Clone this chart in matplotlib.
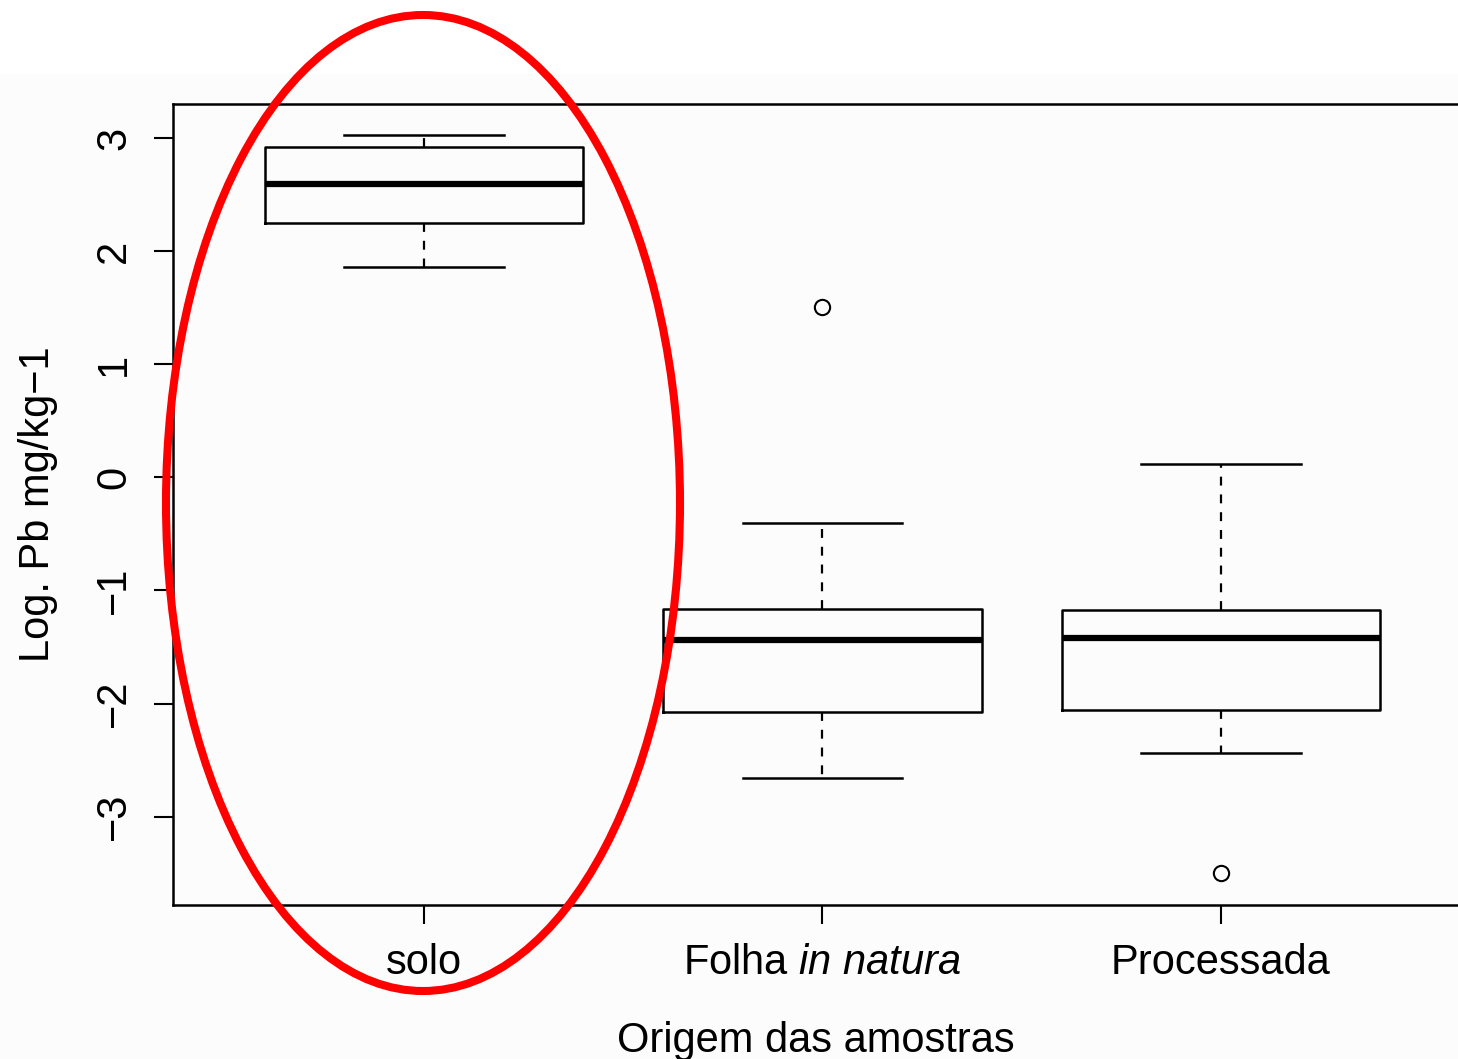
import matplotlib
matplotlib.use("Agg")
import matplotlib.pyplot as plt
from matplotlib.patches import Ellipse, Rectangle

plt.rcParams['font.family'] = ['Liberation Sans', 'DejaVu Sans']
plt.rcParams['mathtext.fontset'] = 'custom'
plt.rcParams['mathtext.rm'] = 'Liberation Sans'
plt.rcParams['mathtext.it'] = 'Liberation Sans:italic'

categories = ["solo", "Folha $\\it{in\\ natura}$", "Processada"]
whisker_low = [1.86, -2.66, -2.44]
q1 = [2.25, -2.07, -2.06]
medians = [2.59, -1.44, -1.42]
q3 = [2.92, -1.16, -1.17]
whisker_high = [3.03, -0.40, 0.12]
outliers = [[], [1.51], [-3.50]]
yticks = [-3, -2, -1, 0, 1, 2, 3]

fig = plt.figure(figsize=(14.58, 10.59), dpi=100, facecolor='#fcfcfc')
fig.patches.append(Rectangle((0, 0.93), 1, 0.07, transform=fig.transFigure,
                             facecolor='white', edgecolor='none', zorder=-1))
ax = fig.add_axes([173/1458, 1-905/1059, 1-173/1458, (905-104)/1059])
ax.set_facecolor('#fcfcfc')

stats = []
for i in range(3):
    stats.append(dict(med=medians[i], q1=q1[i], q3=q3[i], whislo=whisker_low[i],
                      whishi=whisker_high[i], fliers=outliers[i], label=categories[i]))

ax.bxp(stats, positions=[1, 2, 3], widths=0.8, capwidths=0.4, showfliers=True,
       boxprops=dict(color='black', linewidth=1.8),
       medianprops=dict(color='black', linewidth=4.5, solid_capstyle='butt'),
       whiskerprops=dict(color='black', linewidth=1.6, linestyle=(0, (4, 4))),
       capprops=dict(color='black', linewidth=1.8),
       flierprops=dict(marker='o', markersize=11, markerfacecolor='none',
                       markeredgecolor='black', markeredgewidth=1.5))

ax.set_xlim(0.37, 3.595)
ax.set_ylim(-3.78, 3.30)
ax.set_yticks(yticks)
ax.set_yticklabels([str(v).replace('-', '\u2212') for v in yticks], rotation=90,
                   va='center', fontsize=30)
ax.set_xticks([1, 2, 3])
ax.set_xticklabels(categories, fontsize=30)
ax.tick_params(axis='both', length=14, width=1.5, direction='out')
ax.tick_params(axis='y', pad=14)
ax.tick_params(axis='x', pad=13)
for s in ['left', 'bottom', 'top']:
    ax.spines[s].set_linewidth(1.8)
ax.spines['right'].set_visible(False)

ax.set_xlabel("Origem das amostras", fontsize=30, labelpad=28)
ax.set_ylabel("Log. Pb mg/kg\u22121", fontsize=30, labelpad=26)

ell = Ellipse((423/1458, 1-503/1059), 514/1458, 976/1059, transform=fig.transFigure,
              fill=False, edgecolor='#ff0000', linewidth=5.8, zorder=10)
fig.patches.append(ell)

fig.savefig("out.png", dpi=100, facecolor=fig.get_facecolor())
